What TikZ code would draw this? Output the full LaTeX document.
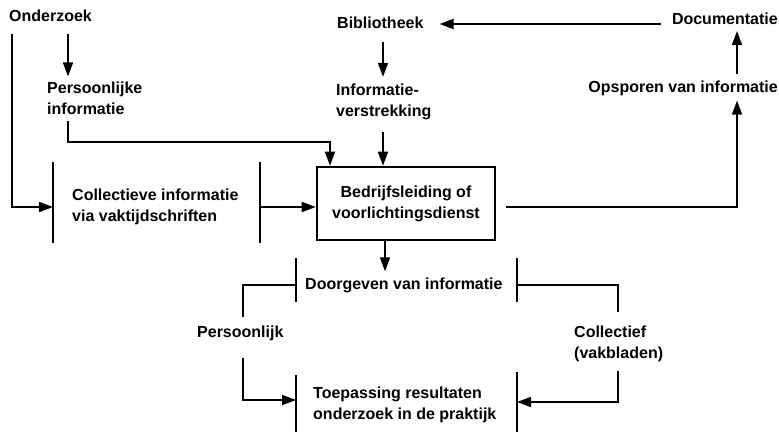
\documentclass[tikz,border=0pt]{standalone}
\usepackage{fontspec}
\setmainfont{Liberation Sans}
\usetikzlibrary{arrows.meta}
\begin{document}
\begin{tikzpicture}[x=1pt,y=-1pt,
  lbl/.style={font=\fontsize{16}{21}\selectfont\bfseries, inner sep=0pt, align=left},
  conn/.style={line width=1.8pt},
  arr/.style={conn,-{Triangle[length=14pt,width=10pt]}},
  bar/.style={line width=1.4pt},
  mainbox/.style={draw, line width=2.6pt, minimum width=178pt, minimum height=73pt, inner sep=2pt,
    font=\fontsize{16}{21}\selectfont\bfseries, align=center}]
\useasboundingbox (0,0) rectangle (779,432);

% text nodes
\node[lbl,anchor=west] (ond) at (9,16) {Onderzoek};
\node[lbl,anchor=west] (pers) at (47,98) {Persoonlijke\\informatie};
\node[lbl,anchor=west] (bib) at (337,23) {Bibliotheek};
\node[lbl,anchor=west] (verstr) at (336,102) {Informatie-\\verstrekking};
\node[lbl,anchor=east] (doc) at (778,19) {Documentatie};
\node[lbl,anchor=east] (ops) at (778,88) {Opsporen van informatie};
\node[lbl,anchor=west] (coll) at (72,207) {Collectieve informatie\\via vaktijdschriften};
\node[mainbox] (box) at (406,203.5) {Bedrijfsleiding of\\voorlichtingsdienst};
\node[lbl,anchor=west] (doorg) at (305,285) {Doorgeven van informatie};
\node[lbl,anchor=west] (perslijk) at (197,333) {Persoonlijk};
\node[lbl,anchor=west] (toep) at (313,405) {Toepassing resultaten\\onderzoek in de praktijk};
\node[lbl,anchor=west] (collf) at (574,344) {Collectief\\(vakbladen)};

% helper coordinates
\coordinate (xL) at (12,0);
\coordinate (xP) at (68,0);
\coordinate (pbend) at (330,142);
\coordinate (xI) at (383,0);
\coordinate (yD) at (0,24);
\coordinate (yC) at (0,207);
\coordinate (xO) at (737,0);
\coordinate (xB) at (243,0);
\coordinate (xR) at (618,0);
\coordinate (xM) at (385,0);

% bars
\coordinate (cbl1) at (53,162);  \coordinate (cbl2) at (53,243);
\coordinate (cbr1) at (260,162); \coordinate (cbr2) at (260,243);
\coordinate (dbl1) at (296,258); \coordinate (dbl2) at (296,302);
\coordinate (dbr1) at (517,258); \coordinate (dbr2) at (517,302);
\coordinate (tbl1) at (296,375); \coordinate (tbl2) at (296,432);
\coordinate (tbr1) at (517,372); \coordinate (tbr2) at (517,432);
\draw[bar] (cbl1) -- (cbl2);
\draw[bar] (cbr1) -- (cbr2);
\draw[bar] (dbl1) -- (dbl2);
\draw[bar] (dbr1) -- (dbr2);
\draw[bar] (tbl1) -- (tbl2);
\draw[bar] (tbr1) -- (tbr2);

% connectors
\draw[arr, shorten <=11.5pt, shorten >=5pt] (ond.south -| xP) -- (pers.north -| xP);
\draw[arr, shorten <=11.5pt] (ond.south -| xL) |- (cbl1 |- yC);
\draw[arr, shorten <=6pt] (pers.south -| xP) |- (pbend) -- (box.north -| pbend);
\draw[arr, shorten <=12.5pt, shorten >=7pt] (bib.south -| xI) -- (verstr.north -| xI);
\draw[arr, shorten <=12pt] (verstr.south -| xI) -- (box.north -| xI);
\draw[arr, shorten <=11pt, shorten >=16pt] (doc.west |- yD) -- (bib.east |- yD);
\draw[arr, shorten <=1pt] (cbr1 |- yC) -- (box.west |- yC);
\draw[arr, shorten <=10pt, shorten >=5pt] (box.east |- yC) -| (ops.south -| xO);
\draw[arr, shorten <=6pt, shorten >=6pt] (ops.north -| xO) -- (doc.south -| xO);
\draw[arr, shorten >=6pt] (box.south -| xM) -- (doorg.north -| xM);
\draw[conn, shorten >=8pt] (dbl1 |- doorg.west) -| (perslijk.north -| xB);
\draw[arr, shorten <=17pt] (perslijk.south -| xB) |- (tbl1 |- 0,400);
\draw[conn, shorten >=13.5pt] (dbr1 |- doorg.west) -| (collf.north -| xR);
\draw[arr, shorten <=8.5pt] (collf.south -| xR) |- (tbr1 |- 0,402);
\end{tikzpicture}
\end{document}
